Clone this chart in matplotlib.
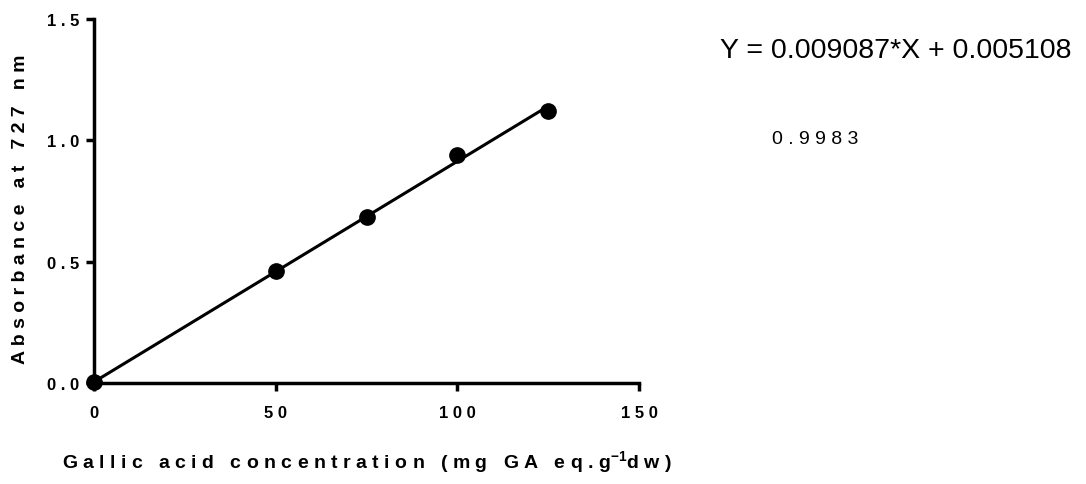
import matplotlib
matplotlib.use("Agg")
import matplotlib.pyplot as plt

# standard curve data
conc = [0, 50, 75, 100, 125]
absorb = [0.005, 0.46, 0.683, 0.94, 1.12]

# fit shown on the chart
slope = 0.009087
intercept = 0.005108
r2_text = "0.9983"
fit_x = [0, 125]

x_ticks = [0, 50, 100, 150]
y_ticks = [0.0, 0.5, 1.0, 1.5]

plt.rcParams['font.family'] = ['Liberation Sans', 'DejaVu Sans']
plt.rcParams['mathtext.fontset'] = 'custom'
plt.rcParams['mathtext.rm'] = 'Liberation Sans'
plt.rcParams['mathtext.bf'] = 'Liberation Sans:bold'


def spaced(s):
    # Prism-style wide letter spacing
    return " ".join(s)


fig = plt.figure(figsize=(10.86, 4.85), dpi=100)
ax = fig.add_axes([0.0866, 0.208, 0.502, 0.751])

fit_y = [slope * x + intercept for x in fit_x]
ax.plot(fit_x, fit_y, color='black', lw=2.2, zorder=2)
ax.plot(conc, absorb, 'o', color='black', markersize=11, zorder=3, clip_on=False)

ax.set_xlim(0, 150)
ax.set_ylim(0, 1.5)
ax.set_xticks(x_ticks)
ax.set_yticks(y_ticks)
ax.set_xticklabels([spaced(str(t)) for t in x_ticks], fontweight='bold', fontsize=12)
ax.set_yticklabels([spaced(f"{t:.1f}") for t in y_ticks], fontweight='bold', fontsize=12)

for side in ['top', 'right']:
    ax.spines[side].set_visible(False)
for side in ['left', 'bottom']:
    ax.spines[side].set_linewidth(2.5)
ax.tick_params(direction='out', length=6, width=2.5)
ax.tick_params(axis='x', pad=10)
ax.tick_params(axis='y', pad=4.5)

fig.text(0.0185, 0.569, spaced("Absorbance at 727 nm"), fontweight='bold', fontsize=14,
         rotation=90, ha='center', va='center')
fig.text(0.057, 0.033, spaced("Gallic acid concentration (mg GA eq.g") + r"$^{\mathbf{-1}}$" + spaced("dw)"),
         fontweight='bold', fontsize=14, ha='left', va='baseline')

fig.text(0.663, 0.895, "Y = 0.009087*X + 0.005108", fontsize=20.5, va='center', ha='left')
fig.text(0.711, 0.712, spaced(r2_text), fontsize=14, va='center', ha='left')

fig.savefig("out.png", dpi=100)
